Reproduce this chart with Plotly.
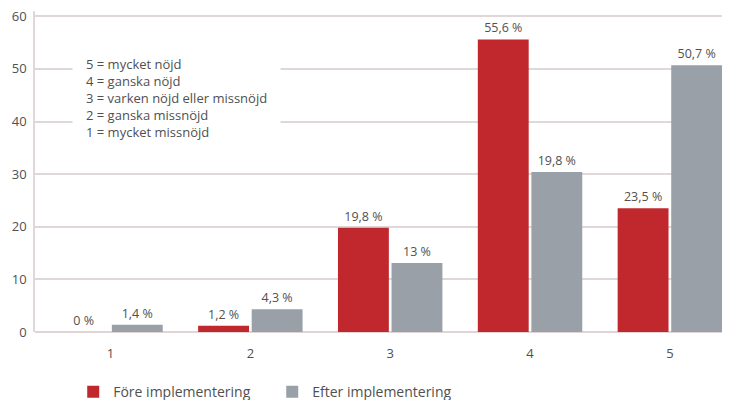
import plotly.graph_objects as go

categories = [1, 2, 3, 4, 5]
tick_labels = ["1", "2", "3", "4", "5"]
fore_values = [0, 1.2, 19.8, 55.6, 23.5]
efter_values = [1.4, 4.3, 13.1, 30.4, 50.7]
fore_labels = ["0 %", "1,2 %", "19,8 %", "55,6 %", "23,5 %"]
efter_labels = ["1,4 %", "4,3 %", "13 %", "19,8 %", "50,7 %"]
series_names = ["Före implementering", "Efter implementering"]
scale_text = ["5 = mycket nöjd", "4 = ganska nöjd", "3 = varken nöjd eller missnöjd",
              "2 = ganska missnöjd", "1 = mycket missnöjd"]

FONT = "Open Sans, sans-serif"
TXT = "#505050"

fig = go.Figure()
fig.add_trace(go.Bar(x=categories, y=fore_values, name=series_names[0],
                     marker=dict(color="#c0282d", line=dict(width=0)),
                     text=fore_labels, textposition="outside",
                     textfont=dict(size=12.5, color=TXT, family=FONT), cliponaxis=False))
fig.add_trace(go.Bar(x=categories, y=efter_values, name=series_names[1],
                     marker=dict(color="#9aa0a8", line=dict(width=0)),
                     text=efter_labels, textposition="outside",
                     textfont=dict(size=12.5, color=TXT, family=FONT), cliponaxis=False))

fig.add_annotation(xref="paper", yref="y", x=0.053, y=44.4, xanchor="left", yanchor="middle",
                   text="<br>".join(scale_text), showarrow=False, align="left",
                   bgcolor="white", borderpad=13,
                   font=dict(size=13, color=TXT, family=FONT))

fig.update_layout(
    width=722, height=392,
    margin=dict(l=27, r=0, t=3, b=68),
    paper_bgcolor="white", plot_bgcolor="white",
    barmode="group", bargap=0.234, bargroupgap=0.05,
    font=dict(family=FONT, color=TXT, size=12),
    showlegend=True,
    legend=dict(orientation="h", x=0.055, xref="paper", y=0.02, yref="container",
                xanchor="left", yanchor="middle",
                font=dict(size=14, color=TXT, family=FONT), entrywidth=154,
                traceorder="normal", bgcolor="rgba(0,0,0,0)"),
    xaxis=dict(range=[0.46, 5.43], tickvals=categories, ticktext=tick_labels,
               showgrid=False, zeroline=False, showline=False, ticks="",
               ticklabelstandoff=12,
               tickfont=dict(size=13, color=TXT)),
    yaxis=dict(range=[0, 61], tickvals=[0, 10, 20, 30, 40, 50, 60],
               showgrid=True, gridcolor="#e0d8d8", gridwidth=1.5,
               zeroline=True, zerolinecolor="#e0d4d4", zerolinewidth=1.5,
               showline=True, linecolor="#e0d8d8", linewidth=1.5, ticks="",
               ticklabelstandoff=4, ticklabeloverflow="allow",
               tickfont=dict(size=13, color=TXT)),
)

fig.write_html("out.html")
